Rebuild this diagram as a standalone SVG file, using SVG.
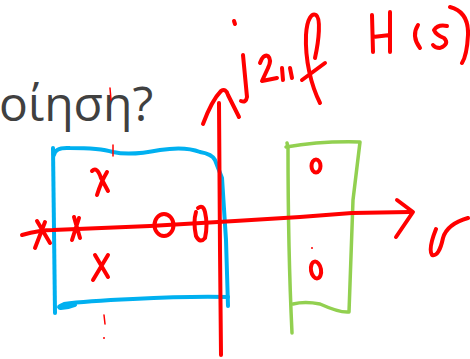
<svg xmlns="http://www.w3.org/2000/svg" width="470" height="359" viewBox="0 0 470 359">
<style>
.r{fill:none;stroke:#ff0000;stroke-width:4;stroke-linecap:round;stroke-linejoin:round}
.rt{fill:none;stroke:#ff0000;stroke-width:1.5;stroke-linecap:round}
.b{fill:none;stroke:#00b0f0;stroke-width:4;stroke-linecap:round;stroke-linejoin:round}
.g{fill:none;stroke:#92d050;stroke-width:3.5;stroke-linecap:round;stroke-linejoin:round}
.t{font-family:"Open Sans","Noto Sans",sans-serif;font-size:48px;fill:#404040}
</style>
<rect width="470" height="359" fill="#ffffff"/>
<text class="t" x="-1" y="121">οίηση?</text>
<g id="blue-box">
<path class="b" d="M53,148 L55,313"/>
<path class="b" d="M54,155 Q55,147 70,148 Q100,148 113,152 Q130,156 160,150 Q185,146 200,152 Q212,154 215,160 L222,178 L226,240 L228,306"/>
<path class="b" d="M228,297 Q190,296 133,299 Q85,301 64,304 Q56,307 61,308 Q68,308 75,305"/>
</g>
<g id="green-box">
<path class="g" d="M287,143 L288,147 Q288,250 292,333"/>
<path class="g" d="M286,147 Q320,141 360,142 L353,200 L349,312 Q340,313 320,304 Q305,301 293,304"/>
</g>
<g id="axes">
<path class="r" d="M219,103 L220,250 L221,355"/>
<path class="r" d="M203,124 Q212,100 221,91 Q226,88 228,95 L239,117"/>
<path class="r" d="M22,235 Q40,230 53,230 L150,226 L235,221 L300,217 L352,213 L410,212"/>
<path class="r" d="M397,200 L413,212 L396,237"/>
</g>
<g id="poles-zeros">
<path class="r" d="M37,221 L50,243 M45,222 L35,248"/>
<path class="r" d="M74,217 L80,238 M79,218 L72,240"/>
<path class="r" d="M92,171 Q97,166 101,178 L108,191 M107,172 Q101,182 97,195"/>
<path class="r" d="M95,255 L108,277 M108,255 L93,280"/>
<ellipse class="r" cx="164" cy="225" rx="9.5" ry="11"/>
<path class="r" d="M198,208 Q203,204 205,212 Q208,225 205,238 Q200,244 196,236 Q193,222 196,212"/>
<ellipse class="r" cx="316" cy="166" rx="4.5" ry="6.5"/>
<ellipse class="r" cx="316" cy="270" rx="5" ry="8.5" transform="rotate(-10 316 270)"/>
</g>
<g id="labels">
<path class="r" d="M234,21 L235,24"/>
<path class="r" d="M243,55 L247,97 Q246,103 241,101"/>
<path class="r" d="M260,63 Q263,54 268,56 Q272,60 268,68 L262,81 L277,78"/>
<path class="r" d="M282,68 L283,80 M290,68 L292,78"/>
<path class="r" d="M320,103 C311,85 305,60 306,35 C307,18 312,13 316,15 C321,18 319,40 315,58 M302,80 L325,63"/>
<path class="r" d="M372,15 L373,52 M390,12 L390,52 M373,37 L390,35"/>
<path class="r" d="M418,25 Q411,36 420,48"/>
<path class="r" d="M447,26 Q438,24 434,30 Q436,35 444,38 Q450,44 440,48 Q435,48 433,45"/>
<path class="r" d="M450,7 Q469,12 468,35 Q467,55 462,63"/>
<path class="r" d="M436,229 Q428,249 432,255 Q439,257 443,238 Q447,224 468,218"/>
<path class="rt" d="M110,88 L111,100 M113,145 L113,156 M104,315 L105,324"/>
<circle cx="104" cy="338" r="1" fill="#ff0000"/>
<circle cx="312" cy="248" r="1" fill="#ff0000"/>
</g>
</svg>
